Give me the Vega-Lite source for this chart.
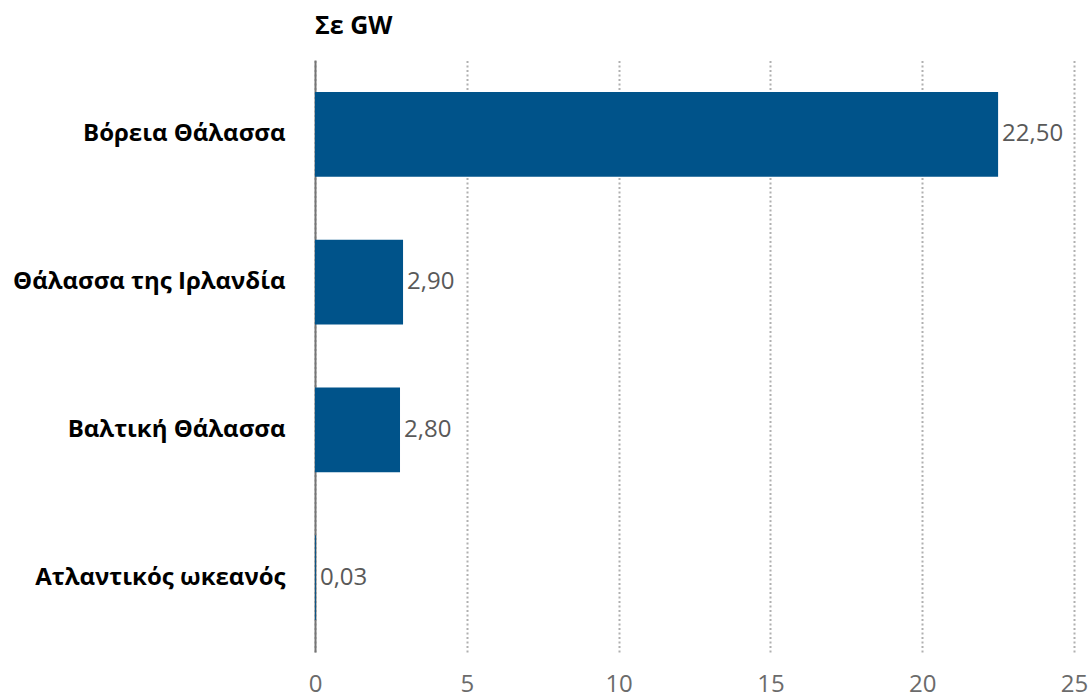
{
  "$schema": "https://vega.github.io/schema/vega-lite/v6.json",
  "autosize": {"type": "none"},
  "padding": {"left": 315, "top": 60, "right": 17, "bottom": 45},
  "width": 759,
  "height": 592,
  "background": "white",
  "title": {
    "text": "Σε GW",
    "anchor": "start",
    "frame": "group",
    "font": "Open Sans",
    "fontSize": 25,
    "fontWeight": "bold",
    "color": "#000000",
    "offset": 21
  },
  "config": {
    "view": {"stroke": null},
    "locale": {"number": {"decimal": ",", "thousands": ".", "grouping": [3], "currency": ["", " €"]}}
  },
  "data": {
    "values": [
      {"region": "Βόρεια Θάλασσα", "gw": 22.5},
      {"region": "Θάλασσα της Ιρλανδία", "gw": 2.9},
      {"region": "Βαλτική Θάλασσα", "gw": 2.8},
      {"region": "Ατλαντικός ωκεανός", "gw": 0.03}
    ]
  },
  "encoding": {
    "y": {
      "field": "region",
      "type": "nominal",
      "sort": null,
      "scale": {"paddingInner": 0.426, "paddingOuter": 0.216},
      "axis": {
        "title": null,
        "ticks": false,
        "domain": true,
        "domainColor": "#757575",
        "domainWidth": 2,
        "labelFont": "Open Sans",
        "labelFontSize": 24,
        "labelFontWeight": "bold",
        "labelColor": "#000000",
        "labelPadding": 30,
        "labelLimit": 400
      }
    },
    "x": {
      "field": "gw",
      "type": "quantitative",
      "scale": {"domain": [0, 25], "nice": false},
      "axis": {
        "title": null,
        "values": [0, 5, 10, 15, 20, 25],
        "domain": false,
        "ticks": false,
        "labelFont": "Open Sans",
        "labelFontSize": 24,
        "labelColor": "#6b6b6b",
        "labelPadding": 20,
        "labelFlush": false,
        "grid": true,
        "gridColor": "#b0b0b0",
        "gridWidth": 2,
        "gridDash": [2, 2.5]
      }
    }
  },
  "layer": [
    {"mark": {"type": "bar", "color": "#00538A"}},
    {
      "mark": {"type": "text", "align": "left", "baseline": "middle", "dx": 4, "font": "Open Sans", "fontSize": 24, "color": "#595959"},
      "encoding": {"text": {"field": "gw", "type": "quantitative", "format": ".2f"}}
    }
  ]
}
